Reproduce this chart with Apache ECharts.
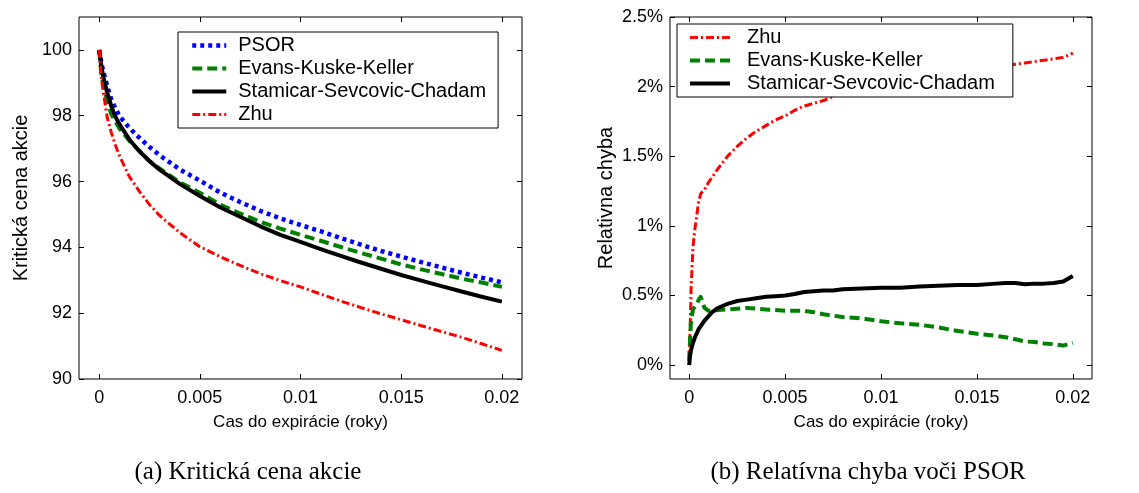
<!DOCTYPE html>
<html>
<head>
<meta charset="utf-8">
<script src="https://cdn.jsdelivr.net/npm/echarts@6/dist/echarts.min.js"></script>
<style>
html,body{margin:0;padding:0;background:#fff;}
#c{width:1139px;height:493px;}
</style>
</head>
<body>
<div id="c"></div>
<script>
// ---- Data: left chart (critical stock price) ----
const xLeft = [0, 0.0001, 0.0002, 0.0004, 0.0006, 0.0008, 0.001, 0.0015, 0.002, 0.0025, 0.003, 0.004, 0.005, 0.006, 0.007, 0.008, 0.009, 0.010, 0.011, 0.012, 0.013, 0.014, 0.015, 0.016, 0.017, 0.018, 0.019, 0.020];
const psor = [100, 99.65, 99.35, 98.9, 98.5, 98.23, 98.0, 97.63, 97.33, 97.05, 96.8, 96.37, 96.03, 95.67, 95.38, 95.11, 94.88, 94.68, 94.49, 94.28, 94.08, 93.89, 93.72, 93.55, 93.39, 93.23, 93.08, 92.94];
const ekk = [100, 99.3, 98.95, 98.45, 98.05, 97.83, 97.62, 97.24, 96.93, 96.62, 96.4, 95.98, 95.66, 95.3, 95.03, 94.78, 94.57, 94.38, 94.2, 94.01, 93.83, 93.66, 93.48, 93.33, 93.19, 93.05, 92.93, 92.8];
const ssc = [100, 99.55, 99.2, 98.7, 98.3, 97.98, 97.75, 97.28, 96.92, 96.62, 96.36, 95.93, 95.56, 95.22, 94.93, 94.64, 94.38, 94.17, 93.95, 93.74, 93.54, 93.35, 93.16, 92.99, 92.82, 92.66, 92.5, 92.35];
const zhu = [100, 99.2, 98.75, 97.95, 97.5, 97.12, 96.8, 96.15, 95.7, 95.3, 94.97, 94.45, 94.02, 93.72, 93.45, 93.2, 92.99, 92.8, 92.58, 92.37, 92.17, 91.98, 91.8, 91.62, 91.44, 91.27, 91.07, 90.87];

// ---- Data: right chart (relative error vs PSOR, %) ----
const xRight = [0, 0.00005, 0.0001, 0.0002, 0.0003, 0.0004, 0.0005, 0.0006, 0.0007, 0.0008, 0.001, 0.0012, 0.0015, 0.002, 0.0025, 0.003, 0.0035, 0.004, 0.0045, 0.005, 0.0055, 0.006, 0.0065, 0.007, 0.0075, 0.008, 0.009, 0.01, 0.011, 0.012, 0.013, 0.014, 0.015, 0.016, 0.0165, 0.017, 0.0175, 0.018, 0.0185, 0.019, 0.0195, 0.02];
const errZhu = [0.05, 0.25, 0.55, 0.85, 0.98, 1.08, 1.18, 1.23, 1.24, 1.26, 1.31, 1.35, 1.41, 1.5, 1.57, 1.63, 1.68, 1.72, 1.76, 1.79, 1.83, 1.86, 1.88, 1.9, 1.93, 1.95, 1.98, 2.01, 2.04, 2.06, 2.08, 2.1, 2.12, 2.14, 2.15, 2.16, 2.17, 2.18, 2.19, 2.2, 2.21, 2.24];
const errEKK = [0.03, 0.2, 0.33, 0.4, 0.42, 0.44, 0.47, 0.49, 0.45, 0.41, 0.39, 0.39, 0.395, 0.4, 0.405, 0.41, 0.405, 0.4, 0.395, 0.39, 0.39, 0.39, 0.38, 0.365, 0.355, 0.345, 0.335, 0.315, 0.3, 0.29, 0.27, 0.245, 0.225, 0.21, 0.2, 0.185, 0.17, 0.165, 0.155, 0.15, 0.14, 0.16];
const errSSC = [0, 0.07, 0.11, 0.16, 0.2, 0.23, 0.26, 0.28, 0.3, 0.32, 0.35, 0.38, 0.41, 0.44, 0.46, 0.47, 0.48, 0.49, 0.495, 0.5, 0.51, 0.525, 0.53, 0.535, 0.535, 0.545, 0.55, 0.555, 0.555, 0.565, 0.57, 0.575, 0.575, 0.585, 0.59, 0.59, 0.58, 0.585, 0.585, 0.59, 0.6, 0.64];

// ---- Tick labels ----
const xTicks = [0, 0.005, 0.01, 0.015, 0.02];
const xTickLabels = ['0', '0.005', '0.01', '0.015', '0.02'];
const yLeftTicks = [90, 92, 94, 96, 98, 100];
const yLeftLabels = ['90', '92', '94', '96', '98', '100'];
const yRightTicks = [0, 0.5, 1, 1.5, 2, 2.5];
const yRightLabels = ['0%', '0.5%', '1%', '1.5%', '2%', '2.5%'];

const names = {
  psor: 'PSOR',
  ekk: 'Evans-Kuske-Keller',
  ssc: 'Stamicar-Sevcovic-Chadam',
  zhu: 'Zhu'
};
const xName = 'Cas do expirácie (roky)';
const yLeftName = 'Kritická cena akcie';
const yRightName = 'Relativna chyba';
const captionA = '(a) Kritická cena akcie';
const captionB = '(b) Relatívna chyba voči PSOR';

const FONT = 'Liberation Sans';
const TICK_FS = 18;
const XNAME_FS = 17;
const YNAME_FS = 20;

function pairs(xs, ys) { return xs.map((x, i) => [x, ys[i]]); }
function lookup(ticks, labels) {
  return function (v) {
    const i = ticks.findIndex(t => Math.abs(t - v) < 1e-9);
    return i >= 0 ? labels[i] : '';
  };
}

const styles = {
  psor: { color: '#0000ff', width: 4.5, type: [4, 4] },
  ekk: { color: '#008000', width: 4, type: [10, 5] },
  ssc: { color: '#000000', width: 4, type: 'solid' },
  zhu: { color: '#ff0000', width: 3, type: [8, 3, 2, 3] }
};

function lineSeries(key, xs, ys, xi, yi) {
  const s = styles[key];
  return {
    type: 'line',
    name: names[key],
    xAxisIndex: xi,
    yAxisIndex: yi,
    data: pairs(xs, ys),
    showSymbol: false,
    symbol: 'none',
    smooth: false,
    color: s.color,
    itemStyle: { color: s.color },
    lineStyle: { color: s.color, width: s.width, type: s.type, cap: 'butt', join: 'round' },
    animation: false,
    z: 2
  };
}

function xAxisDef(grid, pos, showLabels) {
  return {
    type: 'value', gridIndex: grid, position: pos,
    min: -0.001, max: 0.021,
    name: showLabels ? xName : '',
    nameLocation: 'middle', nameGap: 35,
    nameTextStyle: { fontFamily: FONT, fontSize: XNAME_FS, color: '#000' },
    axisLine: { show: false, onZero: false },
    axisTick: { show: true, inside: true, length: 5, customValues: xTicks, lineStyle: { color: '#000', width: 1 } },
    axisLabel: { show: showLabels, customValues: xTicks, formatter: lookup(xTicks, xTickLabels), fontFamily: FONT, fontSize: TICK_FS, color: '#000', margin: 10 },
    splitLine: { show: false }
  };
}
function yAxisDef(grid, pos, showLabels, min, max, ticks, labels, name, gap) {
  return {
    type: 'value', gridIndex: grid, position: pos,
    min: min, max: max,
    name: showLabels ? name : '',
    nameLocation: 'middle', nameGap: gap, nameRotate: 90,
    nameTextStyle: { fontFamily: FONT, fontSize: YNAME_FS, color: '#000' },
    axisLine: { show: false, onZero: false },
    axisTick: { show: true, inside: true, length: 5, customValues: ticks, lineStyle: { color: '#000', width: 1 } },
    axisLabel: { show: showLabels, customValues: ticks, formatter: lookup(ticks, labels), fontFamily: FONT, fontSize: TICK_FS, color: '#000', margin: 7 },
    splitLine: { show: false }
  };
}

const legendCommon = {
  orient: 'vertical',
  backgroundColor: '#fff',
  borderColor: '#000',
  borderWidth: 1,
  borderRadius: 0,
  itemHeight: 12,
  itemGap: 0,
  selectedMode: false,
  itemStyle: { opacity: 0 },
  lineStyle: { width: 'inherit', type: 'inherit', color: 'inherit' },
  z: 10
};

const option = {
  backgroundColor: '#fff',
  animation: false,
  grid: [
    { left: 79, top: 17, width: 443, height: 362, show: true, borderColor: '#000', borderWidth: 1, backgroundColor: 'transparent' },
    { left: 670, top: 17, width: 422, height: 362, show: true, borderColor: '#000', borderWidth: 1, backgroundColor: 'transparent' }
  ],
  xAxis: [
    xAxisDef(0, 'bottom', true),
    xAxisDef(0, 'top', false),
    xAxisDef(1, 'bottom', true),
    xAxisDef(1, 'top', false)
  ],
  yAxis: [
    yAxisDef(0, 'left', true, 90, 101, yLeftTicks, yLeftLabels, yLeftName, 48),
    yAxisDef(0, 'right', false, 90, 101, yLeftTicks, yLeftLabels, '', 0),
    yAxisDef(1, 'left', true, -0.1, 2.5, yRightTicks, yRightLabels, yRightName, 54),
    yAxisDef(1, 'right', false, -0.1, 2.5, yRightTicks, yRightLabels, '', 0)
  ],
  legend: [
    Object.assign({}, legendCommon, {
      left: 178, top: 32, padding: [2, 12, 2, 12],
      itemWidth: 34,
      textStyle: { fontFamily: FONT, fontSize: 20, color: '#000', lineHeight: 23, padding: [0, 0, 0, 7] },
      data: [names.psor, names.ekk, names.ssc, names.zhu]
    }),
    Object.assign({}, legendCommon, {
      left: 677, top: 24, padding: [2, 18, 2, 11],
      itemWidth: 40,
      textStyle: { fontFamily: FONT, fontSize: 20, color: '#000', lineHeight: 23, padding: [0, 0, 0, 12] },
      data: [names.zhu, names.ekk, names.ssc]
    })
  ],
  series: [
    lineSeries('psor', xLeft, psor, 0, 0),
    lineSeries('ekk', xLeft, ekk, 0, 0),
    lineSeries('ssc', xLeft, ssc, 0, 0),
    lineSeries('zhu', xLeft, zhu, 0, 0),
    lineSeries('zhu', xRight, errZhu, 2, 2),
    lineSeries('ekk', xRight, errEKK, 2, 2),
    lineSeries('ssc', xRight, errSSC, 2, 2)
  ],
  graphic: [
    { type: 'text', style: { text: captionA, fontFamily: 'Liberation Serif', fontSize: 25, fill: '#000', textAlign: 'center', textVerticalAlign: 'middle', x: 248, y: 472 } },
    { type: 'text', style: { text: captionB, fontFamily: 'Liberation Serif', fontSize: 25, fill: '#000', textAlign: 'center', textVerticalAlign: 'middle', x: 868, y: 472 } }
  ]
};

const chart = echarts.init(document.getElementById('c'), null, { renderer: 'canvas' });
chart.setOption(option);
</script>
</body>
</html>
